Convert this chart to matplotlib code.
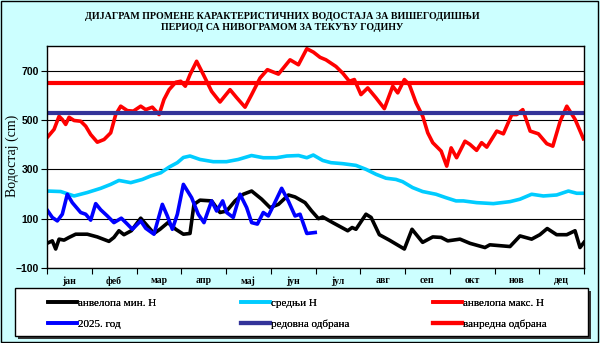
import matplotlib.pyplot as plt
import numpy as np

# анвелопа макс. Н
max_dani = [0, 4.8, 8.2, 10.4, 12.7, 15, 18.4, 22.9, 26.3, 29.7, 34.2, 38.8, 43.3, 46.7, 50.1, 54.6,
            58.7, 63.7, 67.1, 71.6, 76.2, 79.5, 83, 87.5, 90.9, 94, 97.2, 101.7, 106.3, 111.9, 117.6,
            124.4, 129, 134.6, 139.1, 144.8, 149.8, 157.3, 165.2, 170.9, 176.6, 181.1, 185.6, 189.6,
            196.4, 201, 205.5, 208.9, 213.4, 218, 223.6, 229.3, 235, 238.4, 242.9, 246.3, 250.9,
            255.4, 258.8, 262.2, 267.9, 271.7, 274.7, 278.4, 284.1, 287.5, 292, 295.4, 298.9, 305.7,
            310.2, 315.9, 319.3, 323.4, 328.4, 334, 339.7, 343.8, 348.8, 353.3, 359, 364.6]
max_h = [428, 462, 515, 502, 482, 511, 498, 495, 475, 441, 410, 421, 448, 522, 556, 538,
         536, 556, 542, 552, 522, 583, 623, 653, 657, 637, 684, 738, 684, 616, 573,
         623, 590, 552, 603, 670, 704, 686, 744, 724, 789, 775, 754, 744,
         717, 690, 657, 664, 603, 630, 590, 546, 637, 610, 664, 643, 569,
         515, 448, 408, 374, 313, 387, 347, 414, 401, 377, 408, 390, 455,
         444, 522, 522, 542, 455, 444, 404, 394, 495, 556, 502, 424]

# средњи Н
sr_dani = [0, 9.3, 18.4, 27.4, 36.5, 43.3, 48.9, 56.9, 64.8, 70.5, 77.3, 83, 88.6, 92.7, 97.2,
           104, 113, 122, 130, 139, 147, 156, 163, 171, 176.6, 181, 187.4, 193, 201, 210, 216.8,
           223.6, 230.4, 237.2, 241.7, 248.5, 255.3, 264.4, 271.2, 278, 283, 292, 303.4, 314.7,
           321.5, 329.4, 337.4, 346.4, 354.4, 360, 365]
sr_h = [212, 210, 192, 206, 223, 239, 255, 246, 259, 273, 286, 309, 327, 348, 354,
        340, 331, 331, 340, 356, 347, 347, 354, 356, 347, 358, 336, 327, 323, 316, 300,
        280, 264, 259, 250, 226, 210, 199, 185, 172, 172, 165, 161, 169,
        179, 199, 192, 196, 212, 203, 203]

# анвелопа мин. Н
min_dani = [0, 3.6, 5.9, 8.2, 11.6, 15, 19.5, 27.4, 34.2, 42.1, 45.5, 48.9, 52.3, 57.3, 63.7,
            68.2, 72.7, 76.8, 82.2, 87.5, 92.7, 97.2, 99.9, 104, 111.9, 117.6, 122.1, 127.8,
            133.4, 139.1, 145.9, 151.6, 157.3, 164.1, 168.6, 175.4, 179.9, 184.5, 187.4, 194.2,
            204.4, 207.4, 210, 216.8, 220.3, 225.9, 232.7, 242.9, 248.1, 255.3, 262.2, 267.9,
            272.4, 280.7, 287.5, 297.7, 301, 314.7, 321.5, 329.4, 335, 340, 346.4, 353.3, 358.9,
            362.3, 365]
min_h = [0, 10, -23, 17, 13, 24, 37, 37, 26, 8, 24, 51, 35, 51, 102,
         71, 40, 57, 84, 57, 37, 40, 158, 175, 172, 125, 131, 172,
         199, 212, 179, 145, 158, 196, 188, 165, 131, 100, 107, 84,
         51, 64, 57, 118, 105, 35, 13, -23, 57, 4, 26, 24,
         10, 17, 0, -17, -6, -13, 30, 17, 35, 60, 35, 35, 51,
         -17, 4]

# 2025. год
god_dani = [0, 3.6, 7, 10.4, 13.8, 17.2, 22.9, 26.3, 29.7, 33.1, 36.5, 41, 45.5, 50.5, 54.6, 58,
            63.7, 67.1, 72.7, 78.4, 81.8, 85.2, 88.6, 92.7, 98.3, 102.8, 106.7, 111.9, 115.3,
            119.4, 122.1, 126.6, 131.2, 135.7, 139.1, 143, 147, 150.4, 153.8, 159.5, 164, 168.6,
            172, 176.6, 182.3]
god_h = [136, 105, 91, 118, 199, 165, 125, 118, 94, 161, 136, 111, 84, 102, 78, 57,
         91, 61, 37, 158, 111, 57, 118, 239, 185, 118, 84, 172, 131,
         172, 125, 105, 199, 145, 84, 78, 125, 111, 152, 223, 172, 111,
         118, 40, 44]

redovna = 530
vanredna = 650

meseci = ['јан', 'феб', 'мар', 'апр', 'мај', 'јун', 'јул', 'авг', 'сеп', 'окт', 'нов', 'дец']

W, H = 600, 343
fig = plt.figure(figsize=(6, 3.43), dpi=100, facecolor='#ccffff')
fig.patches.append(plt.Rectangle((0.002, 0.003), 0.995, 0.994, transform=fig.transFigure,
                                 fill=False, edgecolor='black', lw=1))
ax = fig.add_axes([47 / W, 1 - 268 / H, 537 / W, 222 / H])
ax.set_facecolor('white')

lw = 2.6
ax.plot(min_dani, min_h, color='black', lw=lw, label='анвелопа мин. Н')
ax.plot(sr_dani, sr_h, color='#00ccff', lw=lw, label='средњи Н')
ax.plot(max_dani, max_h, color='red', lw=lw, label='анвелопа макс. Н')
ax.plot(god_dani, god_h, color='#0000ff', lw=lw, label='2025. год')
ax.axhline(redovna, color='#333399', lw=3, label='редовна одбрана')
ax.axhline(vanredna, color='red', lw=3, label='ванредна одбрана')

ax.set_xlim(0, 365)
ax.set_ylim(-100, 800)
ax.set_yticks([-100, 100, 300, 500, 700])
ax.grid(axis='y', color='black', lw=0.8)
ax.set_axisbelow(True)

granice = np.arange(13) * 365 / 12
ax.set_xticks(granice)
ax.set_xticklabels([])
ax.set_xticks(granice[:-1] + 365 / 24, minor=True)
ax.set_xticklabels(meseci, minor=True, fontfamily='Liberation Serif', fontweight='bold', fontsize=7)
ax.tick_params(axis='x', which='major', direction='out', length=4, width=0.8)
ax.tick_params(axis='x', which='minor', length=0, pad=6)
ax.tick_params(axis='y', direction='out', length=4, width=0.8, pad=2)
for t in ax.get_yticklabels():
    t.set_fontfamily('Liberation Sans')
    t.set_fontweight('bold')
    t.set_fontsize(7.5)
for s in ax.spines.values():
    s.set_linewidth(1)

fig.text(282 / W, 1 - 22 / H, 'ДИЈАГРАМ ПРОМЕНЕ КАРАКТЕРИСТИЧНИХ ВОДОСТАЈА ЗА ВИШЕГОДИШЊИ\n'
         'ПЕРИОД СА НИВОГРАМОМ ЗА ТЕКУЋУ ГОДИНУ', ha='center', va='center',
         fontfamily='Liberation Serif', fontweight='bold', fontsize=7.2, linespacing=1.35)
fig.text(12 / W, 1 - 156 / H, 'Водостај (cm)', rotation=90, ha='center', va='center',
         fontfamily='Liberation Serif', fontsize=10)

# оквир легенде са сенком
fig.patches.append(plt.Rectangle((18 / W, 1 - 339 / H), 573 / W, 48 / H, transform=fig.transFigure,
                                 facecolor='#333333', edgecolor='none'))
fig.patches.append(plt.Rectangle((15 / W, 1 - 336 / H), 573 / W, 48 / H, transform=fig.transFigure,
                                 facecolor='white', edgecolor='black', lw=1))

# три колоне легенде, по две ставке
h, l = ax.get_legend_handles_labels()
kolone = [(0, 3), (1, 4), (2, 5)]
leve_ivice = [48, 241, 433]
for (a, b), x0 in zip(kolone, leve_ivice):
    lg = fig.legend([h[a], h[b]], [l[a], l[b]], loc='upper left', bbox_to_anchor=(x0 / W, 1 - 298 / H),
                    prop={'family': 'Liberation Serif', 'size': 8}, handlelength=2.6,
                    handletextpad=0.1, borderaxespad=0, borderpad=0, labelspacing=1.0,
                    frameon=False)
    fig.add_artist(lg)

fig.savefig('out.png', dpi=100, facecolor=fig.get_facecolor())
